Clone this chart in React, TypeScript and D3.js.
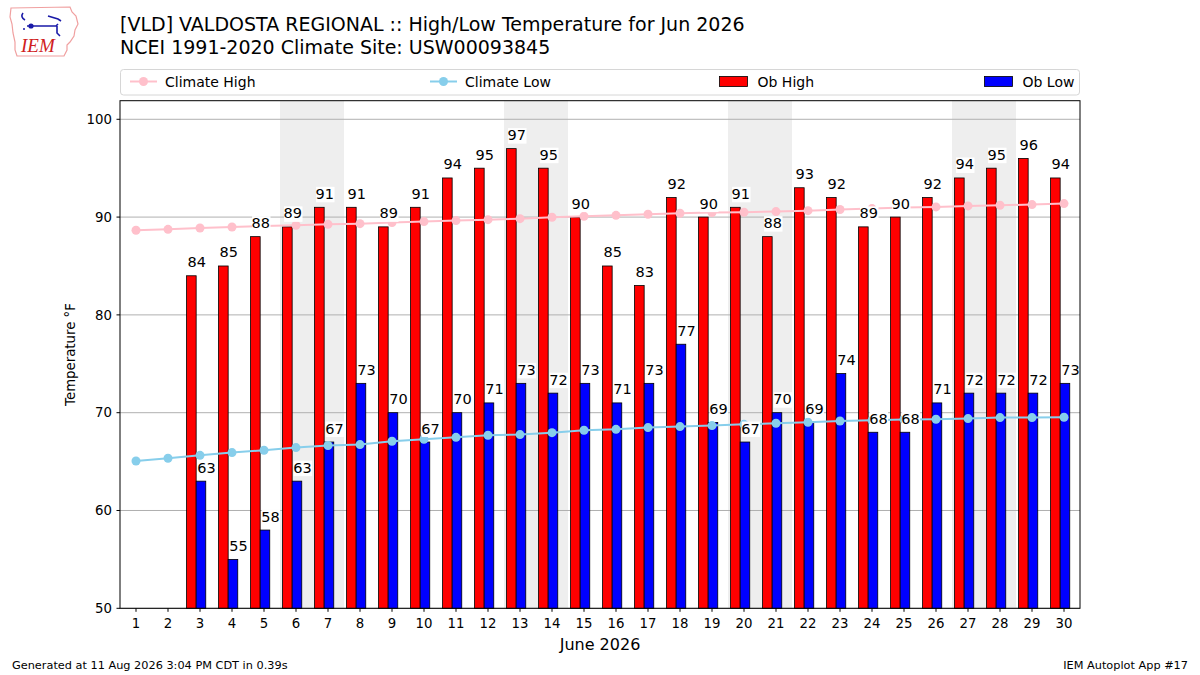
import { useEffect, useRef } from "react";
import { scaleLinear, select, line } from "d3";

const days = [
  1, 2, 3, 4, 5, 6, 7, 8, 9, 10, 11, 12, 13, 14, 15,
  16, 17, 18, 19, 20, 21, 22, 23, 24, 25, 26, 27, 28, 29, 30,
];

const obHigh: (number | null)[] = [
  null, null, 84, 85, 88, 89, 91, 91, 89, 91, 94, 95, 97, 95, 90,
  85, 83, 92, 90, 91, 88, 93, 92, 89, 90, 92, 94, 95, 96, 94,
];

const obLow: (number | null)[] = [
  null, null, 63, 55, 58, 63, 67, 73, 70, 67, 70, 71, 73, 72, 73,
  71, 73, 77, 69, 67, 70, 69, 74, 68, 68, 71, 72, 72, 72, 73,
];

const climateHigh = [
  88.65, 88.75, 88.88, 88.99, 89.09, 89.16, 89.26, 89.33, 89.44, 89.54,
  89.64, 89.74, 89.84, 89.98, 90.08, 90.18, 90.29, 90.39, 90.46, 90.5,
  90.56, 90.66, 90.77, 90.87, 90.97, 91.04, 91.14, 91.21, 91.28, 91.38,
];

const climateLow = [
  65.06, 65.34, 65.64, 65.92, 66.16, 66.43, 66.64, 66.74, 67.08, 67.28,
  67.48, 67.69, 67.76, 67.96, 68.2, 68.3, 68.48, 68.58, 68.68, 68.81,
  68.92, 69.02, 69.15, 69.22, 69.3, 69.33, 69.4, 69.5, 69.5, 69.53,
];

const weekendDays = [6, 7, 13, 14, 20, 21, 27, 28];
const yTicks = [50, 60, 70, 80, 90, 100];

const FONT = "DejaVu Sans, sans-serif";
const PINK = "#ffc0cb";
const SKY = "#87ceeb";

export default function App() {
  const svgRef = useRef<SVGSVGElement | null>(null);

  useEffect(() => {
    document.body.style.margin = "0";
    const svg = select(svgRef.current);
    svg.selectAll("*").remove();

    const left = 120;
    const right = 1080;
    const top = 100.7;
    const bottom = 608.3;

    const x = scaleLinear().domain([0.5, 30.5]).range([left, right]);
    const y = scaleLinear().domain([50, 101.9]).range([bottom, top]);
    const dayW = x(1) - x(0);

    svg.append("rect").attr("width", 1200).attr("height", 675).attr("fill", "#fff");

    // logo (rough IEM mark)
    const logo = svg.append("g");
    logo
      .append("path")
      .attr(
        "d",
        "M11,8 L70,7 L72,12 L76,16 L78,24 L75,30 L74,36 L70,42 L67,45 L67,50 L64,56 L17,56 L15,50 L15,42 L13,33 L12,24 L10,17 Z"
      )
      .attr("fill", "none")
      .attr("stroke", "#f0a0a0")
      .attr("stroke-width", 1.2);
    logo
      .append("path")
      .attr("d", "M23,13 Q20,17 25,20 M27,26 L56,26 L58,24 M48,16 L58,19 L61,21 M57,26 L57,33 L60,36")
      .attr("fill", "none")
      .attr("stroke", "#1a1aa8")
      .attr("stroke-width", 1.6);
    logo.append("circle").attr("cx", 31).attr("cy", 26).attr("r", 2.6).attr("fill", "#1a1aa8");
    logo.append("circle").attr("cx", 24).attr("cy", 29).attr("r", 1).attr("fill", "#1a1aa8");
    logo
      .append("text")
      .attr("x", 21)
      .attr("y", 52)
      .attr("font-family", "Liberation Serif, serif")
      .attr("font-style", "italic")
      .attr("font-size", 19)
      .attr("fill", "#d02020")
      .text("IEM");

    // titles
    svg
      .append("text")
      .attr("x", 120)
      .attr("y", 31)
      .attr("font-family", FONT)
      .attr("font-size", 19)
      .attr("fill", "#000")
      .text("[VLD] VALDOSTA REGIONAL :: High/Low Temperature for Jun 2026");
    svg
      .append("text")
      .attr("x", 120)
      .attr("y", 54)
      .attr("font-family", FONT)
      .attr("font-size", 19)
      .attr("fill", "#000")
      .text("NCEI 1991-2020 Climate Site: USW00093845");

    // weekend shading
    svg
      .append("g")
      .selectAll("rect")
      .data(weekendDays)
      .join("rect")
      .attr("x", (d) => x(d - 0.5))
      .attr("width", dayW)
      .attr("y", top)
      .attr("height", bottom - top)
      .attr("fill", "#eeeeee");

    // grid
    svg
      .append("g")
      .selectAll("line")
      .data(yTicks)
      .join("line")
      .attr("x1", left)
      .attr("x2", right)
      .attr("y1", (d) => y(d))
      .attr("y2", (d) => y(d))
      .attr("stroke", "#b0b0b0")
      .attr("stroke-width", 1);

    const highData = days.map((d, i) => ({ d, v: obHigh[i] })).filter((e) => e.v !== null) as { d: number; v: number }[];
    const lowData = days.map((d, i) => ({ d, v: obLow[i] })).filter((e) => e.v !== null) as { d: number; v: number }[];

    const barW = 0.3;
    const highOff = -0.42;
    const lowOff = -0.12;

    svg
      .append("g")
      .selectAll("rect")
      .data(highData)
      .join("rect")
      .attr("x", (e) => x(e.d + highOff))
      .attr("width", dayW * barW)
      .attr("y", (e) => y(e.v))
      .attr("height", (e) => bottom - y(e.v))
      .attr("fill", "#ff0000")
      .attr("stroke", "#000")
      .attr("stroke-width", 0.8);

    svg
      .append("g")
      .selectAll("rect")
      .data(lowData)
      .join("rect")
      .attr("x", (e) => x(e.d + lowOff))
      .attr("width", dayW * barW)
      .attr("y", (e) => y(e.v))
      .attr("height", (e) => bottom - y(e.v))
      .attr("fill", "#0000ff")
      .attr("stroke", "#000")
      .attr("stroke-width", 0.8);

    // climate lines
    const drawClimate = (vals: number[], color: string) => {
      const pts = days.map((d, i) => [x(d), y(vals[i])] as [number, number]);
      svg
        .append("path")
        .attr("d", line()(pts))
        .attr("fill", "none")
        .attr("stroke", color)
        .attr("stroke-width", 2);
      svg
        .append("g")
        .selectAll("circle")
        .data(pts)
        .join("circle")
        .attr("cx", (p) => p[0])
        .attr("cy", (p) => p[1])
        .attr("r", 4.5)
        .attr("fill", color);
    };
    drawClimate(climateHigh, PINK);
    drawClimate(climateLow, SKY);

    // value labels with tight white boxes
    const labels = svg.append("g");
    const addLabel = (lx: number, baseline: number, txt: string) => {
      const g = labels.append("g");
      const bg = g.append("rect").attr("fill", "#fff");
      const t = g
        .append("text")
        .attr("x", lx + 1)
        .attr("y", baseline)
        .attr("font-family", FONT)
        .attr("font-size", 14.5)
        .attr("fill", "#000")
        .text(txt);
      const w = (t.node() as SVGTextElement).getComputedTextLength();
      bg.attr("x", lx + 1.5).attr("y", baseline - 12).attr("width", w).attr("height", 15.5);
    };
    highData.forEach((e) => addLabel(x(e.d + highOff), y(e.v) - 8.5, String(e.v)));
    lowData.forEach((e) => addLabel(x(e.d + lowOff), y(e.v) - 8.5, String(e.v)));

    // frame
    svg
      .append("rect")
      .attr("x", left)
      .attr("y", top)
      .attr("width", right - left)
      .attr("height", bottom - top)
      .attr("fill", "none")
      .attr("stroke", "#000")
      .attr("stroke-width", 1);

    // y axis
    const yAxis = svg.append("g");
    yAxis
      .selectAll("line")
      .data(yTicks)
      .join("line")
      .attr("x1", left - 3.5)
      .attr("x2", left)
      .attr("y1", (d) => y(d))
      .attr("y2", (d) => y(d))
      .attr("stroke", "#000");
    yAxis
      .selectAll("text")
      .data(yTicks)
      .join("text")
      .attr("x", left - 8)
      .attr("y", (d) => y(d) + 4.8)
      .attr("text-anchor", "end")
      .attr("font-family", FONT)
      .attr("font-size", 13.3)
      .text((d) => d);
    svg
      .append("text")
      .attr("transform", `translate(75, ${(top + bottom) / 2}) rotate(-90)`)
      .attr("text-anchor", "middle")
      .attr("font-family", FONT)
      .attr("font-size", 13.3)
      .text("Temperature °F");

    // x axis
    const xAxis = svg.append("g");
    xAxis
      .selectAll("line")
      .data(days)
      .join("line")
      .attr("x1", (d) => x(d))
      .attr("x2", (d) => x(d))
      .attr("y1", bottom)
      .attr("y2", bottom + 3.5)
      .attr("stroke", "#000");
    xAxis
      .selectAll("text")
      .data(days)
      .join("text")
      .attr("x", (d) => x(d))
      .attr("y", 628.3)
      .attr("text-anchor", "middle")
      .attr("font-family", FONT)
      .attr("font-size", 13.3)
      .text((d) => d);
    svg
      .append("text")
      .attr("x", (left + right) / 2)
      .attr("y", 650)
      .attr("text-anchor", "middle")
      .attr("font-family", FONT)
      .attr("font-size", 16)
      .text("June 2026");

    // legend
    const legend = svg.append("g");
    legend
      .append("rect")
      .attr("x", 120.5)
      .attr("y", 69.5)
      .attr("width", 959)
      .attr("height", 25.5)
      .attr("rx", 3)
      .attr("fill", "#fff")
      .attr("fill-opacity", 0.8)
      .attr("stroke", "#d6d6d6");
    const legY = 81.5;
    const lineItems = [
      { label: "Climate High", color: PINK, x0: 130 },
      { label: "Climate Low", color: SKY, x0: 430 },
    ];
    lineItems.forEach((it) => {
      legend
        .append("line")
        .attr("x1", it.x0)
        .attr("x2", it.x0 + 27)
        .attr("y1", legY)
        .attr("y2", legY)
        .attr("stroke", it.color)
        .attr("stroke-width", 2);
      legend.append("circle").attr("cx", it.x0 + 13.5).attr("cy", legY).attr("r", 4.5).attr("fill", it.color);
      legend
        .append("text")
        .attr("x", it.x0 + 35)
        .attr("y", 86.5)
        .attr("font-family", FONT)
        .attr("font-size", 14)
        .text(it.label);
    });
    const patchItems = [
      { label: "Ob High", color: "#ff0000", x0: 719.5 },
      { label: "Ob Low", color: "#0000ff", x0: 984.5 },
    ];
    patchItems.forEach((it) => {
      legend
        .append("rect")
        .attr("x", it.x0)
        .attr("y", 76.5)
        .attr("width", 28)
        .attr("height", 10)
        .attr("fill", it.color)
        .attr("stroke", "#000")
        .attr("stroke-width", 0.8);
      legend
        .append("text")
        .attr("x", it.x0 + 38)
        .attr("y", 86.5)
        .attr("font-family", FONT)
        .attr("font-size", 14)
        .text(it.label);
    });

    // footer
    svg
      .append("text")
      .attr("x", 12)
      .attr("y", 669)
      .attr("font-family", FONT)
      .attr("font-size", 11.3)
      .text("Generated at 11 Aug 2026 3:04 PM CDT in 0.39s");
    svg
      .append("text")
      .attr("x", 1188)
      .attr("y", 669)
      .attr("text-anchor", "end")
      .attr("font-family", FONT)
      .attr("font-size", 11.3)
      .text("IEM Autoplot App #17");
  }, []);

  return (
    <svg
      ref={svgRef}
      width={1200}
      height={675}
      style={{ position: "absolute", left: 0, top: 0, display: "block" }}
    />
  );
}
